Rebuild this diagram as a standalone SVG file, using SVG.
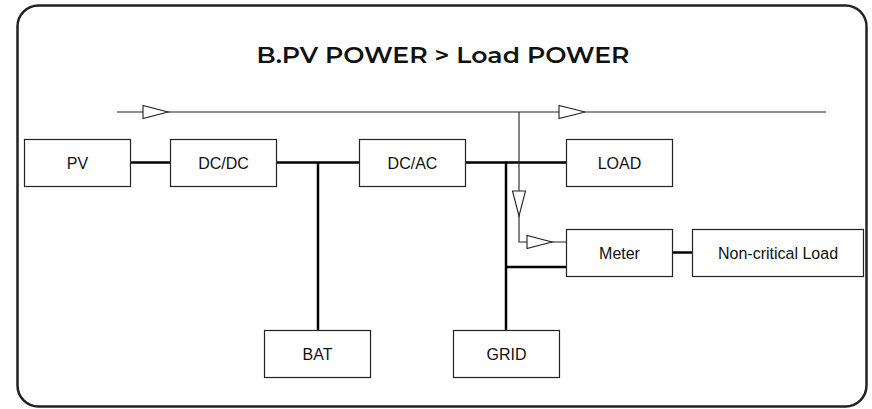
<svg xmlns="http://www.w3.org/2000/svg" width="872" height="409" viewBox="0 0 872 409">
<style>
.box{fill:#fff;stroke:#222;stroke-width:1.2}
.lbl{font-family:"Liberation Sans",Arial,sans-serif;font-size:16px;fill:#111;text-anchor:middle}
.bus{stroke:#000;stroke-width:2.5;fill:none}
.flow{stroke:#222;stroke-width:1.1;fill:none}
.arr{fill:#fff;stroke:#222;stroke-width:1.1}
</style>
<rect x="0" y="0" width="872" height="409" fill="#fff"/>
<rect x="17.5" y="5.5" width="849" height="401" rx="21" ry="21" fill="#fff" stroke="#222" stroke-width="2.5"/>
<text x="443" y="63" font-family="Montserrat,'Open Sans',sans-serif" font-size="21.5" font-weight="600" fill="#111" text-anchor="middle" textLength="373" lengthAdjust="spacingAndGlyphs">B.PV POWER &gt; Load POWER</text>
<g id="connectors">
<line class="bus" x1="130" y1="162.5" x2="170" y2="162.5"/>
<line class="bus" x1="277" y1="162.5" x2="359" y2="162.5"/>
<line class="bus" x1="318" y1="162.5" x2="318" y2="330"/>
<line class="bus" x1="465" y1="162.5" x2="566" y2="162.5"/>
<line class="bus" x1="506" y1="161.5" x2="506" y2="330"/>
<line class="bus" x1="506" y1="267" x2="566" y2="267"/>
<line class="bus" x1="672" y1="252.5" x2="692" y2="252.5"/>
<line class="flow" x1="117" y1="112" x2="826" y2="112"/>
<polyline class="flow" points="519,112 519,242 566,242"/>
<polygon class="arr" points="143,105.5 143,118.5 168,112"/>
<polygon class="arr" points="559,105.5 559,118.5 585,112"/>
<polygon class="arr" points="512.5,191 525.5,191 519,216"/>
<polygon class="arr" points="527,235.5 527,248.5 552,242"/>
</g>
<g id="pv"><rect class="box" x="24.5" y="139.5" width="106" height="47"/><text class="lbl" x="77.5" y="168.5">PV</text></g>
<g id="dcdc"><rect class="box" x="170.5" y="139.5" width="106" height="47"/><text class="lbl" x="223.5" y="168.5">DC/DC</text></g>
<g id="dcac"><rect class="box" x="359.5" y="139.5" width="106" height="47"/><text class="lbl" x="412.5" y="168.5">DC/AC</text></g>
<g id="load"><rect class="box" x="566.5" y="139.5" width="106" height="47"/><text class="lbl" x="619.5" y="168.5">LOAD</text></g>
<g id="meter"><rect class="box" x="566.5" y="229.5" width="106" height="47"/><text class="lbl" x="619.5" y="258.5">Meter</text></g>
<g id="noncritical"><rect class="box" x="692.5" y="229.5" width="171" height="47"/><text class="lbl" x="778" y="258.5">Non-critical Load</text></g>
<g id="bat"><rect class="box" x="264.5" y="330.5" width="106" height="47"/><text class="lbl" x="317.5" y="359.5">BAT</text></g>
<g id="grid"><rect class="box" x="453.5" y="330.5" width="106" height="47"/><text class="lbl" x="506.5" y="359.5">GRID</text></g>
</svg>
